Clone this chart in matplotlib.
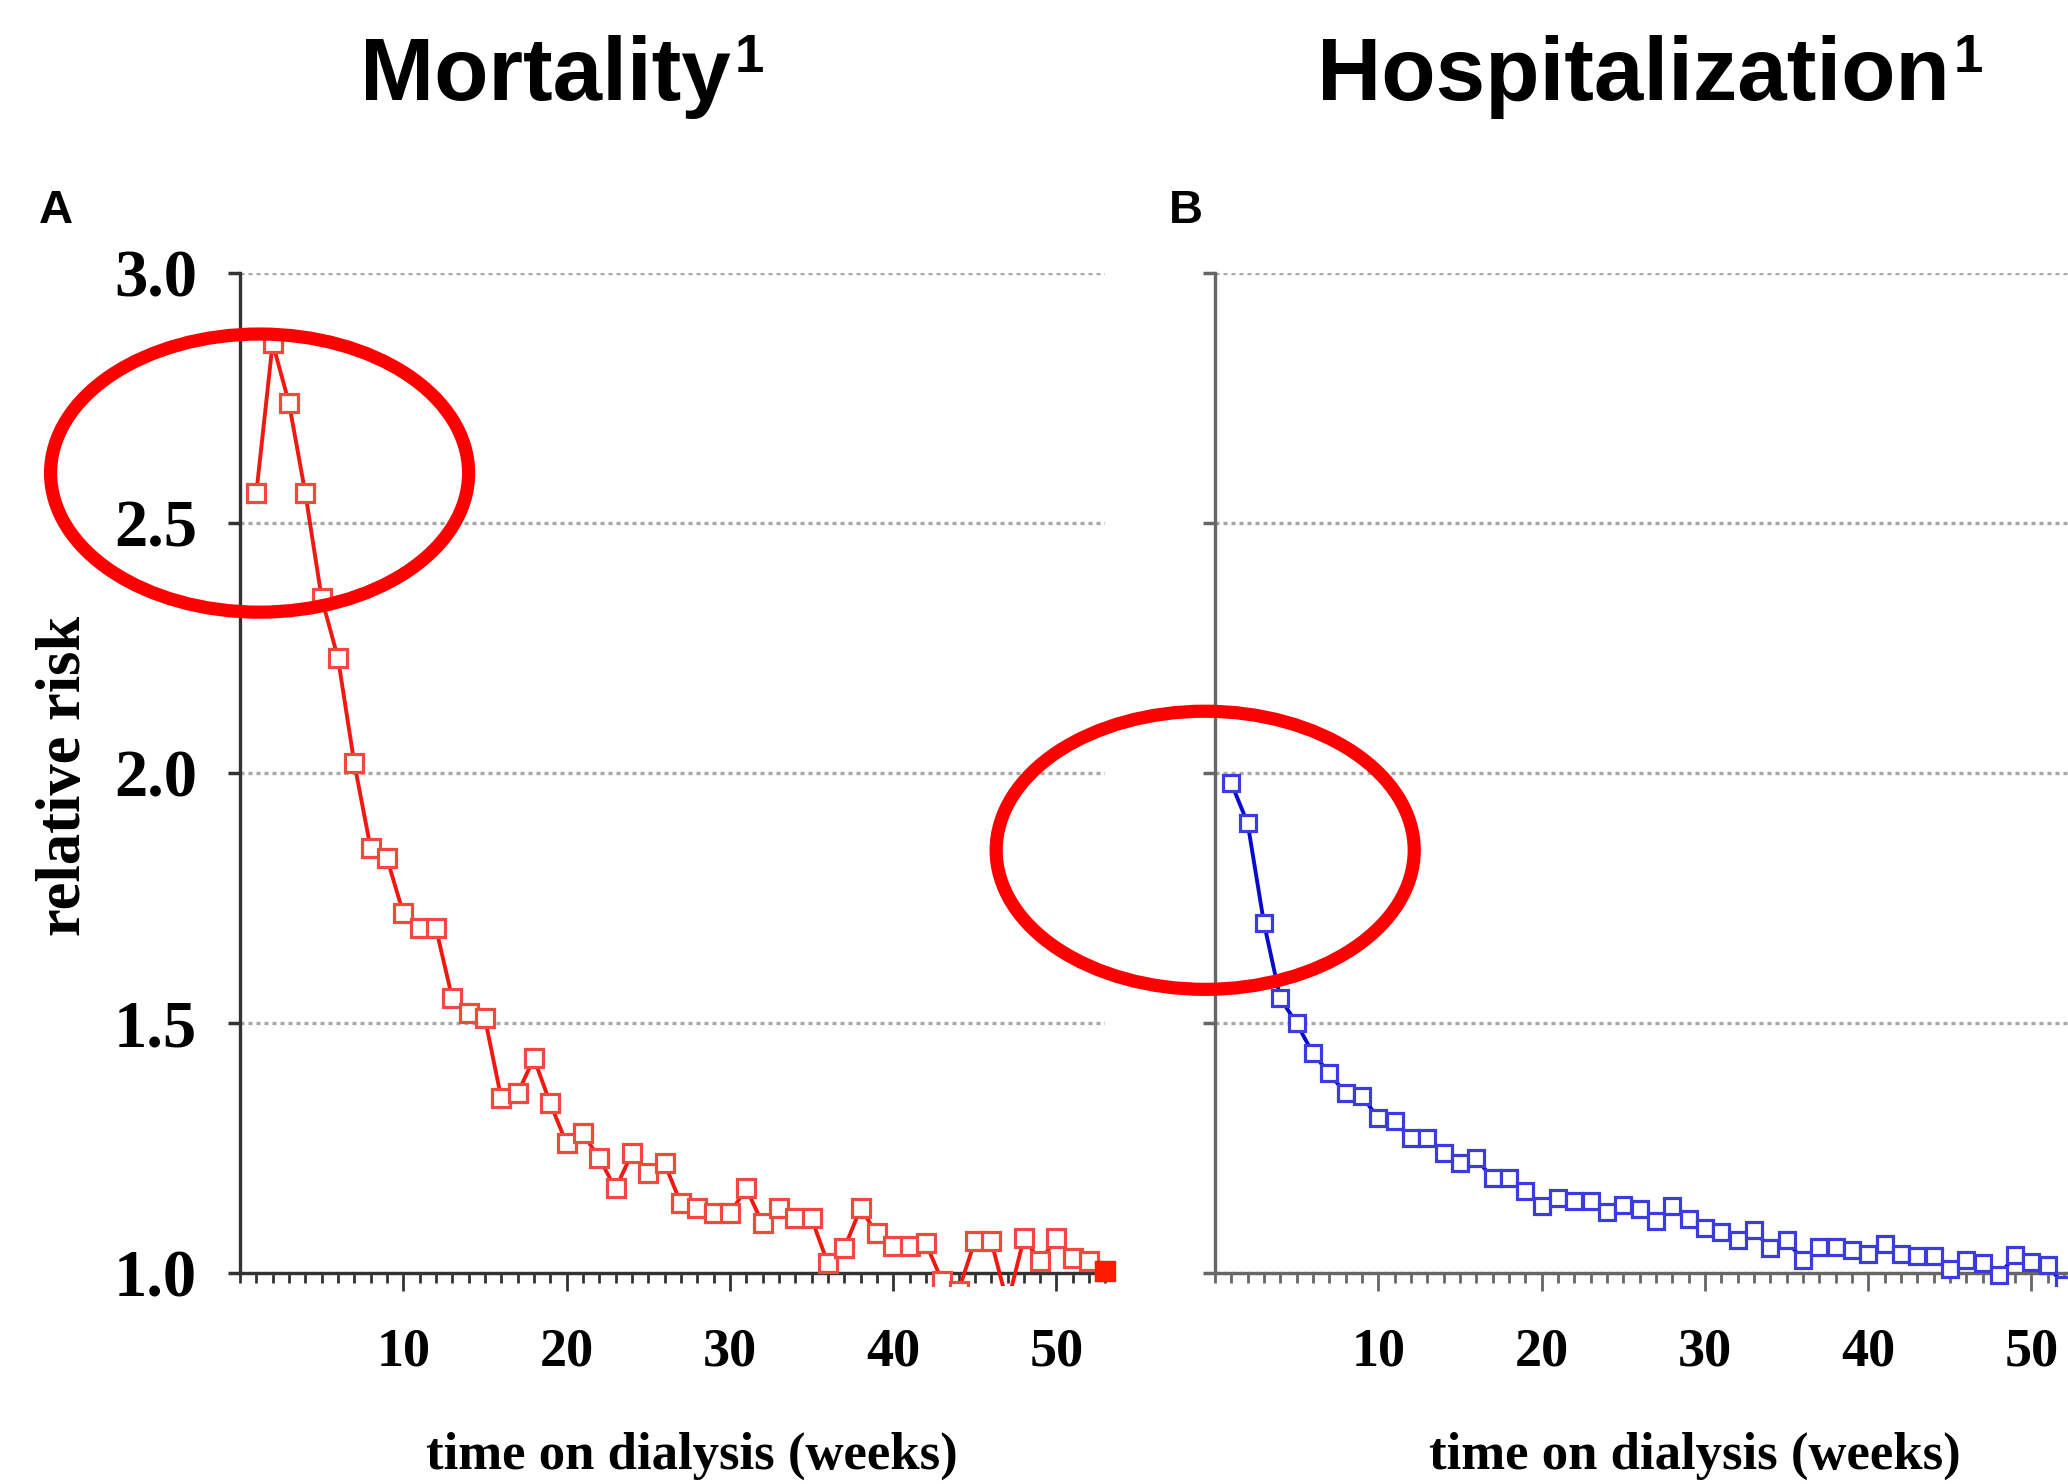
import numpy as np
import matplotlib
matplotlib.use("Agg")
import matplotlib.pyplot as plt
from matplotlib.patches import Ellipse
from matplotlib.ticker import MultipleLocator

# relative risk per week on dialysis
mortality_rr = [
    2.56, 2.86, 2.74, 2.56, 2.35, 2.23, 2.02, 1.85, 1.83, 1.72,
    1.69, 1.69, 1.55, 1.52, 1.51, 1.35, 1.36, 1.43, 1.34, 1.26,
    1.28, 1.23, 1.17, 1.24, 1.20, 1.22, 1.14, 1.13, 1.12, 1.12,
    1.17, 1.10, 1.13, 1.11, 1.11, 1.02, 1.05, 1.13, 1.08, 1.055,
    1.055, 1.06, 0.985, 0.965, 1.065, 1.065, 0.94, 1.07, 1.025, 1.07,
    1.03, 1.025, 1.005,
]
hospital_rr = [
    1.98, 1.90, 1.70, 1.55, 1.50, 1.44, 1.40, 1.36, 1.355, 1.31,
    1.305, 1.27, 1.27, 1.24, 1.22, 1.23, 1.19, 1.19, 1.165, 1.135,
    1.15, 1.145, 1.145, 1.123, 1.137, 1.128, 1.105, 1.134, 1.109, 1.091,
    1.083, 1.066, 1.086, 1.051, 1.066, 1.027, 1.053, 1.053, 1.047, 1.039,
    1.059, 1.038, 1.034, 1.034, 1.009, 1.026, 1.021, 0.996, 1.036, 1.023,
    1.016, 0.976,
]
weeks_mortality = np.arange(1, len(mortality_rr) + 1)
weeks_hospital = np.arange(1, len(hospital_rr) + 1)

y_ticks = [1.0, 1.5, 2.0, 2.5, 3.0]
y_tick_labels = ["1.0", "1.5", "2.0", "2.5", "3.0"]
x_ticks = [10, 20, 30, 40, 50]
x_tick_labels = ["10", "20", "30", "40", "50"]

titles = ["Mortality", "Hospitalization"]
letters = ["A", "B"]
x_label = "time on dialysis (weeks)"
y_label = "relative risk"

plt.rcParams["font.family"] = ["Liberation Serif", "DejaVu Serif"]
plt.rcParams["font.weight"] = "bold"

W, H = 2068, 1484
fig = plt.figure(figsize=(W / 100, H / 100), dpi=100)


def px_axes(left, top, right, bottom):
    return fig.add_axes([left / W, 1 - bottom / H, (right - left) / W, (bottom - top) / H])


def style_axes(ax, spine_color, show_labels):
    ax.set_xlim(0, 53)
    ax.set_ylim(0.975, 3.0)
    for side in ("top", "right"):
        ax.spines[side].set_visible(False)
    ax.spines["bottom"].set_position(("data", 1.0))
    ax.spines["left"].set_bounds(1.0, 3.0)
    for side in ("left", "bottom"):
        ax.spines[side].set_color(spine_color)
        ax.spines[side].set_linewidth(2.4)
    ax.set_yticks(y_ticks)
    ax.set_yticklabels(y_tick_labels if show_labels else [])
    ax.set_xticks(x_ticks)
    ax.set_xticklabels(x_tick_labels)
    ax.xaxis.set_minor_locator(MultipleLocator(1))
    ax.tick_params(axis="y", direction="out", length=9, width=2.5, color=spine_color,
                   labelsize=48, pad=22)
    ax.tick_params(axis="x", which="major", direction="out", length=13, width=2,
                   color=spine_color, labelsize=39, pad=26)
    ax.tick_params(axis="x", which="minor", direction="out", length=7, width=2,
                   color=spine_color)
    ax.set_axisbelow(True)
    ax.yaxis.grid(True, linestyle=(0, (1.2, 1.2)), linewidth=2.4, color="#a8a8a8")


ax_a = px_axes(240, 273, 240 + 53 * 16.33, 1286)
ax_b = px_axes(1215, 273, 1215 + 53 * 16.33, 1286)
style_axes(ax_a, "#333333", True)
style_axes(ax_b, "#666666", False)

# panel A - mortality
ax_a.plot(weeks_mortality, mortality_rr, color="#ee1a12", lw=2.8, marker="s", ms=12.5,
          mfc="white", mec="#f04a40", mew=2.3, zorder=3)
ax_a.plot(weeks_mortality[-1:], mortality_rr[-1:], ls="none", marker="s", ms=15,
          color="#ff1a00", clip_on=False, zorder=4)

# panel B - hospitalization
ax_b.plot(weeks_hospital, hospital_rr, color="#0a0acc", lw=2.8, marker="s", ms=11.5,
          mfc="white", mec="#3c3cdc", mew=2.3, zorder=3)

# red highlight ellipses
for ax, cx, cy in ((ax_a, 1.2, 2.6), (ax_b, -0.6, 1.846)):
    ax.add_patch(Ellipse((cx, cy), 25.6, 0.556, fill=False, edgecolor="#ff0000",
                         lw=9.5, clip_on=False, zorder=10))

for ax, x_frac in ((ax_a, 0.522), (ax_b, 0.555)):
    ax.set_xlabel(x_label, fontsize=38, weight="bold", va="center")
    ax.xaxis.set_label_coords(x_frac, -0.168)

ax_a.set_ylabel(y_label, fontsize=45, weight="bold", va="center")
ax_a.yaxis.set_label_coords(-0.202, 0.504)

renderer = fig.canvas.get_renderer()
for x_px, text in zip((545, 1633), titles):
    t = fig.text(x_px / W, 1 - 100 / H, text, ha="center", va="baseline", fontsize=64,
                 family="Liberation Sans", weight="bold")
    box = t.get_window_extent(renderer)
    fig.text((box.x1 + 4) / W, 1 - 72 / H, "1", ha="left", va="baseline", fontsize=38,
             family="Liberation Sans", weight="bold")

for x_px, text in zip((56, 1186), letters):
    fig.text(x_px / W, 1 - 211 / H, text, ha="center", va="center", fontsize=34,
             family="Liberation Sans", weight="bold")

fig.savefig("out.png", dpi=100)
